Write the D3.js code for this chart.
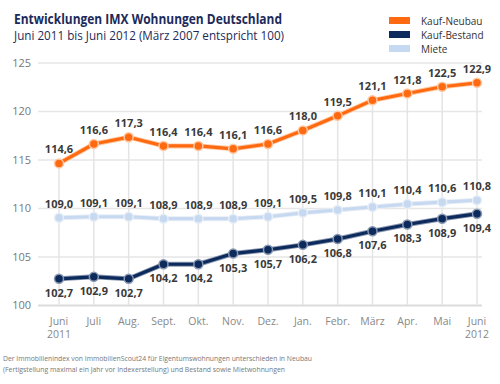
<!DOCTYPE html>
<html>
<head>
<meta charset="utf-8">
<script src="https://cdn.jsdelivr.net/npm/d3@7"></script>
<style>
  body { margin: 0; background: #fff; }
  svg { display: block; font-family: "Open Sans", sans-serif; }
</style>
</head>
<body>
<div id="chart"></div>
<script>
  // Data
  var months = ["Juni|2011", "Juli", "Aug.", "Sept.", "Okt.", "Nov.", "Dez.", "Jan.", "Febr.", "März", "Apr.", "Mai", "Juni|2012"];
  var neubau  = [114.6, 116.6, 117.3, 116.4, 116.4, 116.1, 116.6, 118.0, 119.5, 121.1, 121.8, 122.5, 122.9];
  var bestand = [102.7, 102.9, 102.7, 104.2, 104.2, 105.3, 105.7, 106.2, 106.8, 107.6, 108.3, 108.9, 109.4];
  var miete   = [109.0, 109.1, 109.1, 108.9, 108.9, 108.9, 109.1, 109.5, 109.8, 110.1, 110.4, 110.6, 110.8];
  var yTicks  = [100, 105, 110, 115, 120, 125];

  var series = [
    {name: "Miete",        values: miete,   color: "#c6d9f1", ring: "#e8eef6", label: "above"},
    {name: "Kauf-Bestand", values: bestand, color: "#0c2a5c", ring: "#8a98b0", label: "below"},
    {name: "Kauf-Neubau",  values: neubau,  color: "#ff6a10", ring: "#ffc9a5", label: "above"}
  ];
  var legendOrder = ["Kauf-Neubau", "Kauf-Bestand", "Miete"];

  var width = 500, height = 384;
  var svg = d3.select("#chart").append("svg")
      .attr("width", width)
      .attr("height", height);

  var x = d3.scalePoint().domain(d3.range(months.length)).range([59, 477]);
  var y = d3.scaleLinear().domain([100, 125]).range([305, 62.5]);
  var fmt = function(v) { return d3.format(".1f")(v).replace(".", ","); };

  // Title (reference font is narrower, so squeeze to the same widths)
  svg.append("text")
      .attr("x", 14).attr("y", 23.5)
      .attr("fill", "#1b2a5a")
      .attr("font-size", 14.5).attr("font-weight", "bold")
      .attr("textLength", 268).attr("lengthAdjust", "spacingAndGlyphs")
      .text("Entwicklungen IMX Wohnungen Deutschland");
  svg.append("text")
      .attr("x", 14).attr("y", 40)
      .attr("fill", "#1b2a5a")
      .attr("font-size", 12.5)
      .attr("textLength", 270).attr("lengthAdjust", "spacingAndGlyphs")
      .text("Juni 2011 bis Juni 2012 (März 2007 entspricht 100)");

  // Legend
  var legend = svg.append("g").selectAll("g")
      .data(legendOrder)
      .enter().append("g")
      .attr("transform", function(d, i) { return "translate(389," + (20.5 + i * 14) + ")"; });
  legend.append("rect")
      .attr("x", 0).attr("y", -3.5)
      .attr("width", 21).attr("height", 7)
      .attr("fill", function(d) { return series.find(function(s) { return s.name === d; }).color; });
  legend.append("text")
      .attr("x", 32).attr("y", 4)
      .attr("font-size", 10)
      .attr("fill", "#333")
      .text(function(d) { return d; });

  // Horizontal grid + y labels
  var yAxis = d3.axisLeft(y).tickValues(yTicks).tickSize(-(482 - 38)).tickFormat(d3.format("d"));
  var gy = svg.append("g")
      .attr("transform", "translate(38,0)")
      .call(yAxis);
  gy.select(".domain").remove();
  gy.selectAll(".tick line")
      .attr("stroke", function(d) { return d === 100 ? "#dcdcdc" : "#e6e6e6"; })
      .attr("stroke-width", function(d) { return d === 100 ? 2 : 1.5; });
  gy.selectAll(".tick text")
      .attr("x", -7)
      .attr("fill", "#777")
      .attr("font-size", 11)
      .attr("font-family", "Open Sans, sans-serif");

  // Vertical drop lines from top series to baseline
  svg.append("g").selectAll("line")
      .data(neubau)
      .enter().append("line")
      .attr("x1", function(d, i) { return x(i); })
      .attr("x2", function(d, i) { return x(i); })
      .attr("y1", function(d) { return y(d); })
      .attr("y2", y(100))
      .attr("stroke", "#e4e4e4")
      .attr("stroke-width", 1.5);

  // X labels
  var xl = svg.append("g").selectAll("text")
      .data(months)
      .enter().append("text")
      .attr("text-anchor", "middle")
      .attr("fill", "#888")
      .attr("font-size", 10.5)
      .attr("transform", function(d, i) { return "translate(" + x(i) + ",325)"; });
  xl.each(function(d) {
    var parts = d.split("|");
    var t = d3.select(this);
    parts.forEach(function(p, k) {
      t.append("tspan").attr("x", 0).attr("dy", k === 0 ? 0 : 13).text(p);
    });
  });

  // Lines and points
  var line = d3.line()
      .x(function(d, i) { return x(i); })
      .y(function(d) { return y(d); });

  series.forEach(function(s) {
    var g = svg.append("g");
    g.append("path")
        .datum(s.values)
        .attr("fill", "none")
        .attr("stroke", s.ring)
        .attr("stroke-width", 5)
        .attr("stroke-linejoin", "round")
        .attr("d", line);
    g.append("path")
        .datum(s.values)
        .attr("fill", "none")
        .attr("stroke", s.color)
        .attr("stroke-width", 3.2)
        .attr("stroke-linejoin", "round")
        .attr("d", line);
    g.selectAll("circle")
        .data(s.values)
        .enter().append("circle")
        .attr("cx", function(d, i) { return x(i); })
        .attr("cy", function(d) { return y(d); })
        .attr("r", 4.5)
        .attr("fill", s.color)
        .attr("stroke", s.ring)
        .attr("stroke-width", 1.5);
    g.selectAll("text")
        .data(s.values)
        .enter().append("text")
        .attr("x", function(d, i) { return x(i); })
        .attr("y", function(d) { return y(d) + (s.label === "above" ? -10 : 18); })
        .attr("text-anchor", "middle")
        .attr("font-size", 11)
        .attr("font-weight", "bold")
        .attr("fill", "#3a3a3a")
        .text(fmt);
  });

  // Footer
  var footLines = [
    "Der Immobilienindex von ImmobilienScout24 für Eigentumswohnungen unterschieden in Neubau",
    "(Fertigstellung maximal ein Jahr vor Indexerstellung) und Bestand sowie Mietwohnungen"
  ];
  var footWidths = [309, 282];
  svg.append("g").selectAll("text")
      .data(footLines)
      .enter().append("text")
      .attr("x", 3)
      .attr("y", function(d, i) { return 361 + i * 11; })
      .attr("fill", "#777")
      .attr("font-size", 8)
      .attr("textLength", function(d, i) { return footWidths[i]; })
      .attr("lengthAdjust", "spacingAndGlyphs")
      .text(function(d) { return d; });
</script>
</body>
</html>
